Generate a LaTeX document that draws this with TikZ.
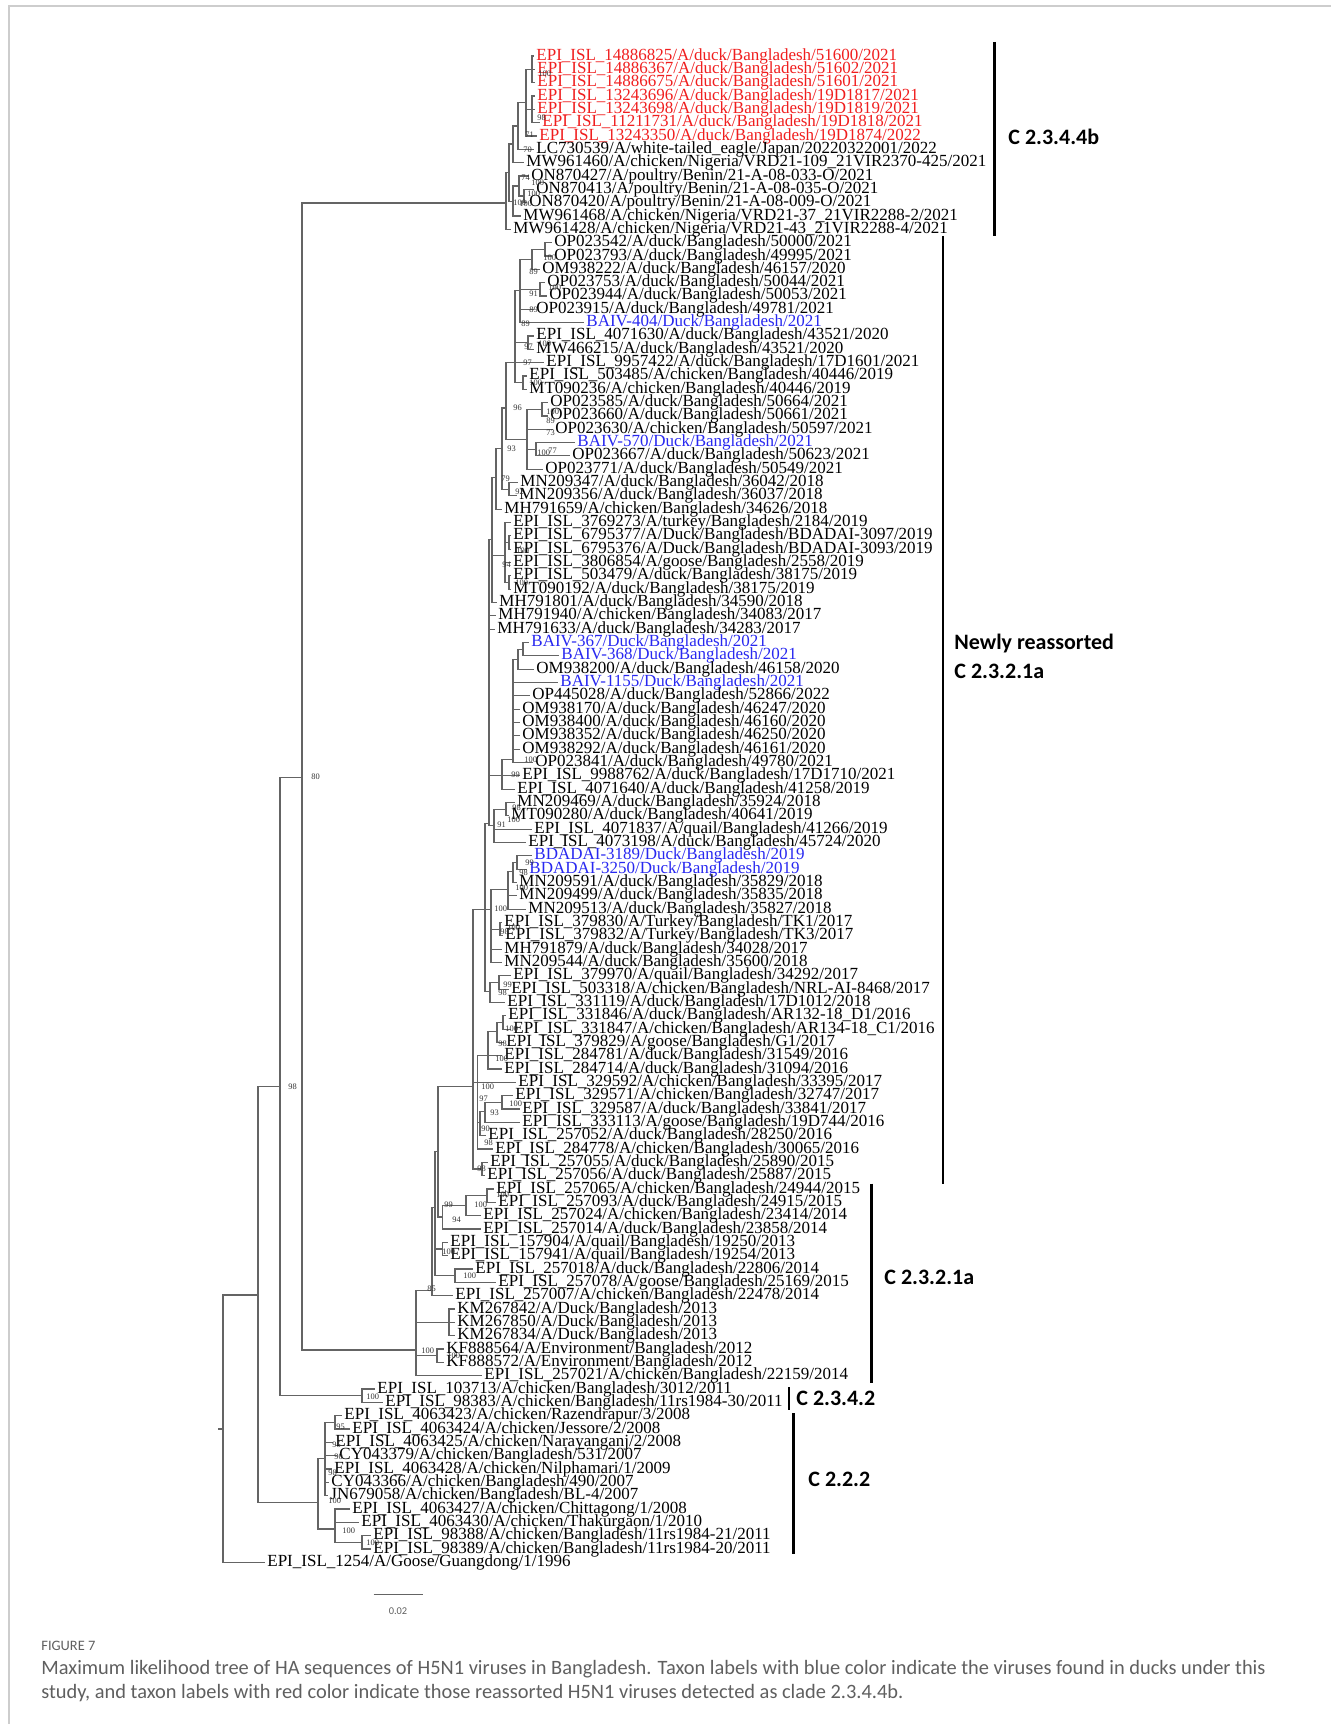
\documentclass[tikz,border=0pt]{standalone}
\usepackage{fontspec}
\setmainfont{Liberation Serif}
\newfontfamily\cladefont{Carlito}
\usetikzlibrary{positioning}

\definecolor{tipred}{RGB}{240,30,30}
\definecolor{tipblue}{RGB}{40,40,240}
\definecolor{treegray}{RGB}{100,100,100}
\definecolor{capgray}{RGB}{95,95,95}
\definecolor{framegray}{RGB}{205,205,205}

\begin{document}
\begin{tikzpicture}[x=0.5pt, y=-6.665pt,
	tip/.style={anchor=west, inner xsep=0pt, inner ysep=0pt, font=\fontsize{8.5}{8.5}\selectfont},
	redtip/.style={tip, text=tipred},
	bluetip/.style={tip, text=tipblue},
	stem/.style={draw=treegray, line width=0.6pt, to path={|- (\tikztotarget)}},
	leaf/.style={stem, shorten >=1pt},
	bs/.style={anchor=west, inner sep=0pt, text=black!80, font=\fontsize{4.2}{4.2}\selectfont},
	clade/.style={anchor=west, inner sep=0pt, font=\cladefont\bfseries\fontsize{11}{14}\selectfont},
	bar/.style={line width=1.4pt}]

	\useasboundingbox (0,-3.2) rectangle (1331,126.13);
	\draw[framegray, line width=0.6pt] (9,126.13) -- (9,-2.75) -- (1331,-2.75);

	% Tips {t1, t2, ..., t114}
	\node[redtip]  (t1)   at (536,1)   {EPI\_ISL\_14886825/A/duck/Bangladesh/51600/2021};
	\node[redtip]  (t2)   at (537,2)   {EPI\_ISL\_14886367/A/duck/Bangladesh/51602/2021};
	\node[redtip]  (t3)   at (537,3)   {EPI\_ISL\_14886675/A/duck/Bangladesh/51601/2021};
	\node[redtip]  (t4)   at (537,4)   {EPI\_ISL\_13243696/A/duck/Bangladesh/19D1817/2021};
	\node[redtip]  (t5)   at (537,5)   {EPI\_ISL\_13243698/A/duck/Bangladesh/19D1819/2021};
	\node[redtip]  (t6)   at (542,6)   {EPI\_ISL\_11211731/A/duck/Bangladesh/19D1818/2021};
	\node[redtip]  (t7)   at (539,7)   {EPI\_ISL\_13243350/A/duck/Bangladesh/19D1874/2022};
	\node[tip]     (t8)   at (536,8)   {LC730539/A/white-tailed\_eagle/Japan/20220322001/2022};
	\node[tip]     (t9)   at (526,9)   {MW961460/A/chicken/Nigeria/VRD21-109\_21VIR2370-425/2021};
	\node[tip]     (t10)  at (531,10)  {ON870427/A/poultry/Benin/21-A-08-033-O/2021};
	\node[tip]     (t11)  at (536,11)  {ON870413/A/poultry/Benin/21-A-08-035-O/2021};
	\node[tip]     (t12)  at (529,12)  {ON870420/A/poultry/Benin/21-A-08-009-O/2021};
	\node[tip]     (t13)  at (523,13)  {MW961468/A/chicken/Nigeria/VRD21-37\_21VIR2288-2/2021};
	\node[tip]     (t14)  at (513,14)  {MW961428/A/chicken/Nigeria/VRD21-43\_21VIR2288-4/2021};
	\node[tip]     (t15)  at (554,15)  {OP023542/A/duck/Bangladesh/50000/2021};
	\node[tip]     (t16)  at (554,16)  {OP023793/A/duck/Bangladesh/49995/2021};
	\node[tip]     (t17)  at (542,17)  {OM938222/A/duck/Bangladesh/46157/2020};
	\node[tip]     (t18)  at (547,18)  {OP023753/A/duck/Bangladesh/50044/2021};
	\node[tip]     (t19)  at (549,19)  {OP023944/A/duck/Bangladesh/50053/2021};
	\node[tip]     (t20)  at (536,20)  {OP023915/A/duck/Bangladesh/49781/2021};
	\node[bluetip] (t21)  at (586,21)  {BAIV-404/Duck/Bangladesh/2021};
	\node[tip]     (t22)  at (536,22)  {EPI\_ISL\_4071630/A/duck/Bangladesh/43521/2020};
	\node[tip]     (t23)  at (536,23)  {MW466215/A/duck/Bangladesh/43521/2020};
	\node[tip]     (t24)  at (546,24)  {EPI\_ISL\_9957422/A/duck/Bangladesh/17D1601/2021};
	\node[tip]     (t25)  at (529,25)  {EPI\_ISL\_503485/A/chicken/Bangladesh/40446/2019};
	\node[tip]     (t26)  at (529,26)  {MT090236/A/chicken/Bangladesh/40446/2019};
	\node[tip]     (t27)  at (550,27)  {OP023585/A/duck/Bangladesh/50664/2021};
	\node[tip]     (t28)  at (550,28)  {OP023660/A/duck/Bangladesh/50661/2021};
	\node[tip]     (t29)  at (555,29)  {OP023630/A/chicken/Bangladesh/50597/2021};
	\node[bluetip] (t30)  at (577,30)  {BAIV-570/Duck/Bangladesh/2021};
	\node[tip]     (t31)  at (572,31)  {OP023667/A/duck/Bangladesh/50623/2021};
	\node[tip]     (t32)  at (545,32)  {OP023771/A/duck/Bangladesh/50549/2021};
	\node[tip]     (t33)  at (520,33)  {MN209347/A/duck/Bangladesh/36042/2018};
	\node[tip]     (t34)  at (519,34)  {MN209356/A/duck/Bangladesh/36037/2018};
	\node[tip]     (t35)  at (504,35)  {MH791659/A/chicken/Bangladesh/34626/2018};
	\node[tip]     (t36)  at (513,36)  {EPI\_ISL\_3769273/A/turkey/Bangladesh/2184/2019};
	\node[tip]     (t37)  at (513,37)  {EPI\_ISL\_6795377/A/Duck/Bangladesh/BDADAI-3097/2019};
	\node[tip]     (t38)  at (513,38)  {EPI\_ISL\_6795376/A/Duck/Bangladesh/BDADAI-3093/2019};
	\node[tip]     (t39)  at (513,39)  {EPI\_ISL\_3806854/A/goose/Bangladesh/2558/2019};
	\node[tip]     (t40)  at (513,40)  {EPI\_ISL\_503479/A/duck/Bangladesh/38175/2019};
	\node[tip]     (t41)  at (513,41)  {MT090192/A/duck/Bangladesh/38175/2019};
	\node[tip]     (t42)  at (499,42)  {MH791801/A/duck/Bangladesh/34590/2018};
	\node[tip]     (t43)  at (498,43)  {MH791940/A/chicken/Bangladesh/34083/2017};
	\node[tip]     (t44)  at (497,44)  {MH791633/A/duck/Bangladesh/34283/2017};
	\node[bluetip] (t45)  at (531,45)  {BAIV-367/Duck/Bangladesh/2021};
	\node[bluetip] (t46)  at (561,46)  {BAIV-368/Duck/Bangladesh/2021};
	\node[tip]     (t47)  at (536,47)  {OM938200/A/duck/Bangladesh/46158/2020};
	\node[bluetip] (t48)  at (560,48)  {BAIV-1155/Duck/Bangladesh/2021};
	\node[tip]     (t49)  at (532,49)  {OP445028/A/duck/Bangladesh/52866/2022};
	\node[tip]     (t50)  at (522,50)  {OM938170/A/duck/Bangladesh/46247/2020};
	\node[tip]     (t51)  at (522,51)  {OM938400/A/duck/Bangladesh/46160/2020};
	\node[tip]     (t52)  at (522,52)  {OM938352/A/duck/Bangladesh/46250/2020};
	\node[tip]     (t53)  at (522,53)  {OM938292/A/duck/Bangladesh/46161/2020};
	\node[tip]     (t54)  at (535,54)  {OP023841/A/duck/Bangladesh/49780/2021};
	\node[tip]     (t55)  at (522,55)  {EPI\_ISL\_9988762/A/duck/Bangladesh/17D1710/2021};
	\node[tip]     (t56)  at (517,56)  {EPI\_ISL\_4071640/A/duck/Bangladesh/41258/2019};
	\node[tip]     (t57)  at (517,57)  {MN209469/A/duck/Bangladesh/35924/2018};
	\node[tip]     (t58)  at (511,58)  {MT090280/A/duck/Bangladesh/40641/2019};
	\node[tip]     (t59)  at (534,59)  {EPI\_ISL\_4071837/A/quail/Bangladesh/41266/2019};
	\node[tip]     (t60)  at (528,60)  {EPI\_ISL\_4073198/A/duck/Bangladesh/45724/2020};
	\node[bluetip] (t61)  at (534,61)  {BDADAI-3189/Duck/Bangladesh/2019};
	\node[bluetip] (t62)  at (529,62)  {BDADAI-3250/Duck/Bangladesh/2019};
	\node[tip]     (t63)  at (519,63)  {MN209591/A/duck/Bangladesh/35829/2018};
	\node[tip]     (t64)  at (519,64)  {MN209499/A/duck/Bangladesh/35835/2018};
	\node[tip]     (t65)  at (528,65)  {MN209513/A/duck/Bangladesh/35827/2018};
	\node[tip]     (t66)  at (504,66)  {EPI\_ISL\_379830/A/Turkey/Bangladesh/TK1/2017};
	\node[tip]     (t67)  at (505,67)  {EPI\_ISL\_379832/A/Turkey/Bangladesh/TK3/2017};
	\node[tip]     (t68)  at (504,68)  {MH791879/A/duck/Bangladesh/34028/2017};
	\node[tip]     (t69)  at (504,69)  {MN209544/A/duck/Bangladesh/35600/2018};
	\node[tip]     (t70)  at (513,70)  {EPI\_ISL\_379970/A/quail/Bangladesh/34292/2017};
	\node[tip]     (t71)  at (511,71)  {EPI\_ISL\_503318/A/chicken/Bangladesh/NRL-AI-8468/2017};
	\node[tip]     (t72)  at (507,72)  {EPI\_ISL\_331119/A/duck/Bangladesh/17D1012/2018};
	\node[tip]     (t73)  at (508,73)  {EPI\_ISL\_331846/A/duck/Bangladesh/AR132-18\_D1/2016};
	\node[tip]     (t74)  at (513,74)  {EPI\_ISL\_331847/A/chicken/Bangladesh/AR134-18\_C1/2016};
	\node[tip]     (t75)  at (506,75)  {EPI\_ISL\_379829/A/goose/Bangladesh/G1/2017};
	\node[tip]     (t76)  at (504,76)  {EPI\_ISL\_284781/A/duck/Bangladesh/31549/2016};
	\node[tip]     (t77)  at (504,77)  {EPI\_ISL\_284714/A/duck/Bangladesh/31094/2016};
	\node[tip]     (t78)  at (518,78)  {EPI\_ISL\_329592/A/chicken/Bangladesh/33395/2017};
	\node[tip]     (t79)  at (515,79)  {EPI\_ISL\_329571/A/chicken/Bangladesh/32747/2017};
	\node[tip]     (t80)  at (522,80)  {EPI\_ISL\_329587/A/duck/Bangladesh/33841/2017};
	\node[tip]     (t81)  at (522,81)  {EPI\_ISL\_333113/A/goose/Bangladesh/19D744/2016};
	\node[tip]     (t82)  at (488,82)  {EPI\_ISL\_257052/A/duck/Bangladesh/28250/2016};
	\node[tip]     (t83)  at (495,83)  {EPI\_ISL\_284778/A/chicken/Bangladesh/30065/2016};
	\node[tip]     (t84)  at (490,84)  {EPI\_ISL\_257055/A/duck/Bangladesh/25890/2015};
	\node[tip]     (t85)  at (487,85)  {EPI\_ISL\_257056/A/duck/Bangladesh/25887/2015};
	\node[tip]     (t86)  at (496,86)  {EPI\_ISL\_257065/A/chicken/Bangladesh/24944/2015};
	\node[tip]     (t87)  at (498,87)  {EPI\_ISL\_257093/A/duck/Bangladesh/24915/2015};
	\node[tip]     (t88)  at (483,88)  {EPI\_ISL\_257024/A/chicken/Bangladesh/23414/2014};
	\node[tip]     (t89)  at (483,89)  {EPI\_ISL\_257014/A/duck/Bangladesh/23858/2014};
	\node[tip]     (t90)  at (450,90)  {EPI\_ISL\_157904/A/quail/Bangladesh/19250/2013};
	\node[tip]     (t91)  at (450,91)  {EPI\_ISL\_157941/A/quail/Bangladesh/19254/2013};
	\node[tip]     (t92)  at (475,92)  {EPI\_ISL\_257018/A/duck/Bangladesh/22806/2014};
	\node[tip]     (t93)  at (498,93)  {EPI\_ISL\_257078/A/goose/Bangladesh/25169/2015};
	\node[tip]     (t94)  at (455,94)  {EPI\_ISL\_257007/A/chicken/Bangladesh/22478/2014};
	\node[tip]     (t95)  at (457,95)  {KM267842/A/Duck/Bangladesh/2013};
	\node[tip]     (t96)  at (457,96)  {KM267850/A/Duck/Bangladesh/2013};
	\node[tip]     (t97)  at (457,97)  {KM267834/A/Duck/Bangladesh/2013};
	\node[tip]     (t98)  at (446,98)  {KF888564/A/Environment/Bangladesh/2012};
	\node[tip]     (t99)  at (446,99)  {KF888572/A/Environment/Bangladesh/2012};
	\node[tip]     (t100) at (484,100) {EPI\_ISL\_257021/A/chicken/Bangladesh/22159/2014};
	\node[tip]     (t101) at (377,101) {EPI\_ISL\_103713/A/chicken/Bangladesh/3012/2011};
	\node[tip]     (t102) at (385,102) {EPI\_ISL\_98383/A/chicken/Bangladesh/11rs1984-30/2011};
	\node[tip]     (t103) at (344,103) {EPI\_ISL\_4063423/A/chicken/Razendrapur/3/2008};
	\node[tip]     (t104) at (352,104) {EPI\_ISL\_4063424/A/chicken/Jessore/2/2008};
	\node[tip]     (t105) at (335,105) {EPI\_ISL\_4063425/A/chicken/Narayanganj/2/2008};
	\node[tip]     (t106) at (339,106) {CY043379/A/chicken/Bangladesh/531/2007};
	\node[tip]     (t107) at (334,107) {EPI\_ISL\_4063428/A/chicken/Nilphamari/1/2009};
	\node[tip]     (t108) at (331,108) {CY043366/A/chicken/Bangladesh/490/2007};
	\node[tip]     (t109) at (330,109) {JN679058/A/chicken/Bangladesh/BL-4/2007};
	\node[tip]     (t110) at (352,110) {EPI\_ISL\_4063427/A/chicken/Chittagong/1/2008};
	\node[tip]     (t111) at (361,111) {EPI\_ISL\_4063430/A/chicken/Thakurgaon/1/2010};
	\node[tip]     (t112) at (373,112) {EPI\_ISL\_98388/A/chicken/Bangladesh/11rs1984-21/2011};
	\node[tip]     (t113) at (373,113) {EPI\_ISL\_98389/A/chicken/Bangladesh/11rs1984-20/2011};
	\node[tip]     (t114) at (267,114) {EPI\_ISL\_1254/A/Goose/Guangdong/1/1996};

	% Inner nodes: backbone
	\coordinate (stub)  at (218,104);
	\coordinate (root)  at (223,104);
	\coordinate (nA)    at (258,93.95);
	\coordinate (nB)    at (280,78.3);
	\coordinate (nD)    at (302,55.1);
	\coordinate (n101)  at (362,101.5);
	% clade 2.2.2
	\coordinate (nC)    at (318,109.5);
	\coordinate (nC1a)  at (335,103.5);
	\coordinate (nC1)   at (325,106.2);
	\coordinate (nC2)   at (335,111.5);
	\coordinate (nC4)   at (362,112.5);
	% clade 2.3.4.4b
	\coordinate (r123)  at (532,2);
	\coordinate (r456)  at (532,5);
	\coordinate (rred)  at (526,4.5);
	\coordinate (reur)  at (518,6.25);
	\coordinate (rg)    at (513,7.6);
	\coordinate (ben2)  at (524,11.5);
	\coordinate (ben1)  at (519,10.75);
	\coordinate (rh)    at (513,11.9);
	\coordinate (rf)    at (509,9.75);
	\coordinate (nE)    at (506,12.03);
	% clade 2.3.2.1a
	\coordinate (nI)    at (416,98.07);
	\coordinate (km)    at (449,96);
	\coordinate (kf)    at (437,98.5);
	\coordinate (nJ)    at (432,93.6);
	\coordinate (nK)    at (435,87.4);
	\coordinate (q1)    at (442.5,90.5);
	\coordinate (q2)    at (455,92.5);
	\coordinate (nL)    at (438,83.2);
	\coordinate (p3)    at (442.5,88.1);
	\coordinate (p2)    at (466,87.25);
	\coordinate (p1)    at (487,86.5);
	% newly reassorted 2.3.2.1a
	\coordinate (N3)    at (473,78.3);
	\coordinate (i8485) at (482,84.5);
	\coordinate (hAll)  at (477.5,78);
	\coordinate (g7377) at (488,76);
	\coordinate (g7375) at (497,74.2);
	\coordinate (g7374) at (503,73.5);
	\coordinate (h7982) at (480,81);
	\coordinate (h7981) at (485,80.2);
	\coordinate (h7980) at (502,79.5);
	\coordinate (N2)    at (485,65);
	\coordinate (f7072) at (490,71.2);
	\coordinate (f7071) at (499,70.5);
	\coordinate (e6169) at (491,65);
	\coordinate (e6667) at (500,66.5);
	\coordinate (e6165) at (508,63.5);
	\coordinate (e6163) at (513,62.2);
	\coordinate (e6162) at (517,61.5);
	\coordinate (N1)    at (489,58.6);
	\coordinate (d5760) at (494,58.75);
	\coordinate (d5758) at (506,57.5);
	\coordinate (c4556) at (502,55);
	\coordinate (c4554) at (513,53.8);
	\coordinate (c4547) at (518,46.25);
	\coordinate (c4546) at (523,45.5);
	\coordinate (N0)    at (492,37.25);
	\coordinate (b3641) at (505,38.5);
	\coordinate (b3738) at (509,37.5);
	\coordinate (b4041) at (509,40.5);
	\coordinate (a1535) at (496,32.6);
	\coordinate (a1534) at (502,30.45);
	\coordinate (a3334) at (509,33.5);
	\coordinate (a1532) at (506,27.4);
	\coordinate (a2732) at (527,29.75);
	\coordinate (a3031) at (536,30.5);
	\coordinate (a2728) at (542,27.5);
	\coordinate (a1526) at (515,24);
	\coordinate (a2526) at (523,25.5);
	\coordinate (a2223) at (528,22.5);
	\coordinate (a1521) at (520,18.6);
	\coordinate (a1819) at (540,18.5);
	\coordinate (a1517) at (532,16.25);
	\coordinate (a1516) at (545,15.5);

	% Branches: backbone
	\draw[treegray, line width=0.6pt] (stub) -- (root);
	\path (root) edge[stem] (nA) edge[leaf] (t114);
	\path (nA) edge[stem] (nB) edge[stem] (nC);
	\path (nB) edge[stem] (nD) edge[stem] (n101);
	\path (nD) edge[stem] (nE) edge[stem] (nI);
	\path (n101) edge[leaf] (t101) edge[leaf] (t102);

	% Branches: 2.2.2
	\path (nC) edge[stem] (nC1) edge[stem] (nC2);
	\path (nC1) edge[stem] (nC1a) edge[leaf] (t105) edge[leaf] (t106) edge[leaf] (t107) edge[leaf] (t108) edge[leaf] (t109);
	\path (nC1a) edge[leaf] (t103) edge[leaf] (t104);
	\path (nC2) edge[leaf] (t110) edge[leaf] (t111) edge[stem] (nC4);
	\path (nC4) edge[leaf] (t112) edge[leaf] (t113);

	% Branches: 2.3.4.4b
	\path (nE) edge[stem] (rf) edge[leaf] (t14);
	\path (rf) edge[stem] (rg) edge[stem] (rh);
	\path (rg) edge[stem] (reur) edge[leaf] (t9);
	\path (reur) edge[stem] (rred) edge[leaf] (t8);
	\path (rred) edge[stem] (r123) edge[stem] (r456) edge[leaf] (t7);
	\path (r123) edge[leaf] (t1) edge[leaf] (t2) edge[leaf] (t3);
	\path (r456) edge[leaf] (t4) edge[leaf] (t5) edge[leaf] (t6);
	\path (rh) edge[stem] (ben1) edge[leaf] (t13);
	\path (ben1) edge[leaf] (t10) edge[stem] (ben2);
	\path (ben2) edge[leaf] (t11) edge[leaf] (t12);

	% Branches: 2.3.2.1a
	\path (nI) edge[stem] (nJ) edge[stem] (km) edge[stem] (kf) edge[leaf] (t100);
	\path (km) edge[leaf] (t95) edge[leaf] (t96) edge[leaf] (t97);
	\path (kf) edge[leaf] (t98) edge[leaf] (t99);
	\path (nJ) edge[stem] (nK) edge[leaf] (t94);
	\path (nK) edge[stem] (nL) edge[stem] (q1) edge[stem] (q2);
	\path (q1) edge[leaf] (t90) edge[leaf] (t91);
	\path (q2) edge[leaf] (t92) edge[leaf] (t93);
	\path (nL) edge[stem] (N3) edge[stem] (p3);
	\path (p3) edge[stem] (p2) edge[leaf] (t89);
	\path (p2) edge[stem] (p1) edge[leaf] (t88);
	\path (p1) edge[leaf] (t86) edge[leaf] (t87);

	% Branches: newly reassorted
	\path (N3) edge[stem] (N2) edge[stem] (hAll) edge[stem] (i8485);
	\path (i8485) edge[leaf] (t84) edge[leaf] (t85);
	\path (hAll) edge[stem] (g7377) edge[leaf] (t78) edge[stem] (h7982) edge[leaf] (t83);
	\path (g7377) edge[stem] (g7375) edge[leaf] (t76) edge[leaf] (t77);
	\path (g7375) edge[stem] (g7374) edge[leaf] (t75);
	\path (g7374) edge[leaf] (t73) edge[leaf] (t74);
	\path (h7982) edge[stem] (h7981) edge[leaf] (t82);
	\path (h7981) edge[stem] (h7980) edge[leaf] (t81);
	\path (h7980) edge[leaf] (t79) edge[leaf] (t80);
	\path (N2) edge[stem] (N1) edge[stem] (e6169) edge[stem] (f7072);
	\path (f7072) edge[stem] (f7071) edge[leaf] (t72);
	\path (f7071) edge[leaf] (t70) edge[leaf] (t71);
	\path (e6169) edge[stem] (e6165) edge[stem] (e6667) edge[leaf] (t68) edge[leaf] (t69);
	\path (e6667) edge[leaf] (t66) edge[leaf] (t67);
	\path (e6165) edge[stem] (e6163) edge[leaf] (t64) edge[leaf] (t65);
	\path (e6163) edge[stem] (e6162) edge[leaf] (t63);
	\path (e6162) edge[leaf] (t61) edge[leaf] (t62);
	\path (N1) edge[stem] (N0) edge[leaf] (t43) edge[leaf] (t44) edge[stem] (c4556) edge[stem] (d5760);
	\path (d5760) edge[stem] (d5758) edge[leaf] (t59) edge[leaf] (t60);
	\path (d5758) edge[leaf] (t57) edge[leaf] (t58);
	\path (c4556) edge[stem] (c4554) edge[leaf] (t55) edge[leaf] (t56);
	\path (c4554) edge[stem] (c4547) edge[leaf] (t48) edge[leaf] (t49) edge[leaf] (t50) edge[leaf] (t51) edge[leaf] (t52) edge[leaf] (t53) edge[leaf] (t54);
	\path (c4547) edge[stem] (c4546) edge[leaf] (t47);
	\path (c4546) edge[leaf] (t45) edge[leaf] (t46);
	\path (N0) edge[stem] (a1535) edge[stem] (b3641) edge[leaf] (t42);
	\path (b3641) edge[leaf] (t36) edge[stem] (b3738) edge[leaf] (t39) edge[stem] (b4041);
	\path (b3738) edge[leaf] (t37) edge[leaf] (t38);
	\path (b4041) edge[leaf] (t40) edge[leaf] (t41);
	\path (a1535) edge[stem] (a1534) edge[leaf] (t35);
	\path (a1534) edge[stem] (a1532) edge[stem] (a3334);
	\path (a3334) edge[leaf] (t33) edge[leaf] (t34);
	\path (a1532) edge[stem] (a1526) edge[stem] (a2732);
	\path (a2732) edge[stem] (a2728) edge[leaf] (t29) edge[stem] (a3031) edge[leaf] (t32);
	\path (a2728) edge[leaf] (t27) edge[leaf] (t28);
	\path (a3031) edge[leaf] (t30) edge[leaf] (t31);
	\path (a1526) edge[stem] (a1521) edge[stem] (a2223) edge[leaf] (t24) edge[stem] (a2526);
	\path (a2526) edge[leaf] (t25) edge[leaf] (t26);
	\path (a2223) edge[leaf] (t22) edge[leaf] (t23);
	\path (a1521) edge[stem] (a1517) edge[stem] (a1819) edge[leaf] (t20) edge[leaf] (t21);
	\path (a1819) edge[leaf] (t18) edge[leaf] (t19);
	\path (a1517) edge[stem] (a1516) edge[leaf] (t17);
	\path (a1516) edge[leaf] (t15) edge[leaf] (t16);

	% Bootstrap values
	\node[bs] (s1)  at (538,2.3)   {100};
	\node[bs] (s2)  at (537,5.6)   {98};
	\node[bs] (s3)  at (525,6.9)   {71};
	\node[bs] (s4)  at (523,8.0)   {70};
	\node[bs] (s5)  at (521,10.1)  {74};
	\node[bs] (s6)  at (531,10.5)  {100};
	\node[bs] (s7)  at (527,11.3)  {100};
	\node[bs] (s8)  at (513,12.0)  {100};
	\node[bs] (s9)  at (519,12.1)  {100};
	\node[bs] (s10) at (543,16.1)  {100};
	\node[bs] (s11) at (529,17.2)  {89};
	\node[bs] (s12) at (548,18.4)  {100};
	\node[bs] (s13) at (529,18.8)  {91};
	\node[bs] (s14) at (529,20.0)  {89};
	\node[bs] (s15) at (521,21.1)  {89};
	\node[bs] (s16) at (524,22.8)  {97};
	\node[bs] (s17) at (538,22.6)  {100};
	\node[bs] (s18) at (523,24.0)  {97};
	\node[bs] (s19) at (529,25.5)  {100};
	\node[bs] (s20) at (513,27.4)  {96};
	\node[bs] (s21) at (546,27.7)  {100};
	\node[bs] (s22) at (546,28.4)  {89};
	\node[bs] (s23) at (546,29.3)  {73};
	\node[bs] (s24) at (507,30.5)  {93};
	\node[bs] (s25) at (537,30.8)  {100};
	\node[bs] (s26) at (548,30.6)  {77};
	\node[bs] (s27) at (501,32.7)  {79};
	\node[bs] (s28) at (515,33.7)  {92};
	\node[bs] (s29) at (516,38.1)  {100};
	\node[bs] (s30) at (502,39.2)  {94};
	\node[bs] (s31) at (515,40.5)  {100};
	\node[bs] (s32) at (524,53.8)  {100};
	\node[bs] (s33) at (511,54.9)  {99};
	\node[bs] (s34) at (512,57.4)  {98};
	\node[bs] (s35) at (507,58.3)  {100};
	\node[bs] (s36) at (497,58.7)  {91};
	\node[bs] (s37) at (525,61.5)  {99};
	\node[bs] (s38) at (519,62.3)  {98};
	\node[bs] (s39) at (515,63.4)  {100};
	\node[bs] (s40) at (494,65.0)  {100};
	\node[bs] (s41) at (500,66.7)  {98};
	\node[bs] (s42) at (507,66.4)  {100};
	\node[bs] (s43) at (503,70.7)  {99};
	\node[bs] (s44) at (498,71.3)  {98};
	\node[bs] (s45) at (505,74.0)  {100};
	\node[bs] (s46) at (498,75.1)  {98};
	\node[bs] (s47) at (495,76.2)  {100};
	\node[bs] (s48) at (481,78.3)  {100};
	\node[bs] (s49) at (479,79.2)  {97};
	\node[bs] (s50) at (509,79.6)  {100};
	\node[bs] (s51) at (490,80.3)  {93};
	\node[bs] (s52) at (481,81.5)  {90};
	\node[bs] (s53) at (484,82.5)  {98};
	\node[bs] (s54) at (477,84.5)  {98};
	\node[bs] (s55) at (496,86.4)  {100};
	\node[bs] (s56) at (444,87.2)  {99};
	\node[bs] (s57) at (474,87.2)  {100};
	\node[bs] (s58) at (452,88.3)  {94};
	\node[bs] (s59) at (442,90.7)  {100};
	\node[bs] (s60) at (463,92.5)  {100};
	\node[bs] (s61) at (427,93.5)  {85};
	\node[bs] (s62) at (421,98.1)  {100};
	\node[bs] (s63) at (447,98.5)  {100};
	\node[bs] (s64) at (366,101.6) {100};
	\node[bs] (s65) at (336,103.8) {95};
	\node[bs] (s66) at (332,105.2) {95};
	\node[bs] (s67) at (334,106.1) {90};
	\node[bs] (s68) at (328,107.3) {98};
	\node[bs] (s69) at (328,109.4) {100};
	\node[bs] (s70) at (342,111.6) {100};
	\node[bs] (s71) at (366,112.5) {100};
	\node[bs] (s72) at (288,78.3)  {98};
	\node[bs] (s73) at (311,55.1)  {80};

	% Clade bars and names
	\draw[bar] (994.6,-0.05) -- (994.6,14.5);
	\draw[bar] (943,14.5) -- (943,85.6);
	\draw[bar] (871.5,85.6) -- (871.5,100.55);
	\draw[bar] (789,100.85) -- (789,102.6);
	\draw[bar] (793.5,102.8) -- (793.5,113.4);
	\node[clade] (c1) at (1008,7.08)  {C 2.3.4.4b};
	\node[clade] (c2) at (954,45.1)   {Newly reassorted};
	\node[clade] (c3) at (954,47.15)  {C 2.3.2.1a};
	\node[clade] (c4) at (884,92.6)   {C 2.3.2.1a};
	\node[clade] (c5) at (796,101.67) {C 2.3.4.2};
	\node[clade] (c6) at (808,107.8)  {C 2.2.2};

	% Scale bar
	\draw[treegray, line width=0.6pt] (373.6,116.4) -- (423,116.4);
	\node[font=\cladefont\fontsize{5.2}{6}\selectfont, text=capgray, inner sep=0pt] (scale) at (398,117.7) {0.02};

	% Caption
	\node[anchor=base west, inner sep=0pt, text=capgray, font=\cladefont\fontsize{7.2}{8}\selectfont] (fig) at (41,120.6) {FIGURE 7};
	\node[anchor=base west, inner sep=0pt, text=capgray, font=\cladefont\fontsize{10.2}{12}\selectfont] (cap1) at (41,122.4) {Maximum likelihood tree of HA sequences of H5N1 viruses in Bangladesh. Taxon labels with blue color indicate the viruses found in ducks under this};
	\node[anchor=base west, inner sep=0pt, text=capgray, font=\cladefont\fontsize{10.2}{12}\selectfont] (cap2) at (41,124.2) {study, and taxon labels with red color indicate those reassorted H5N1 viruses detected as clade 2.3.4.4b.};

\end{tikzpicture}
\end{document}
